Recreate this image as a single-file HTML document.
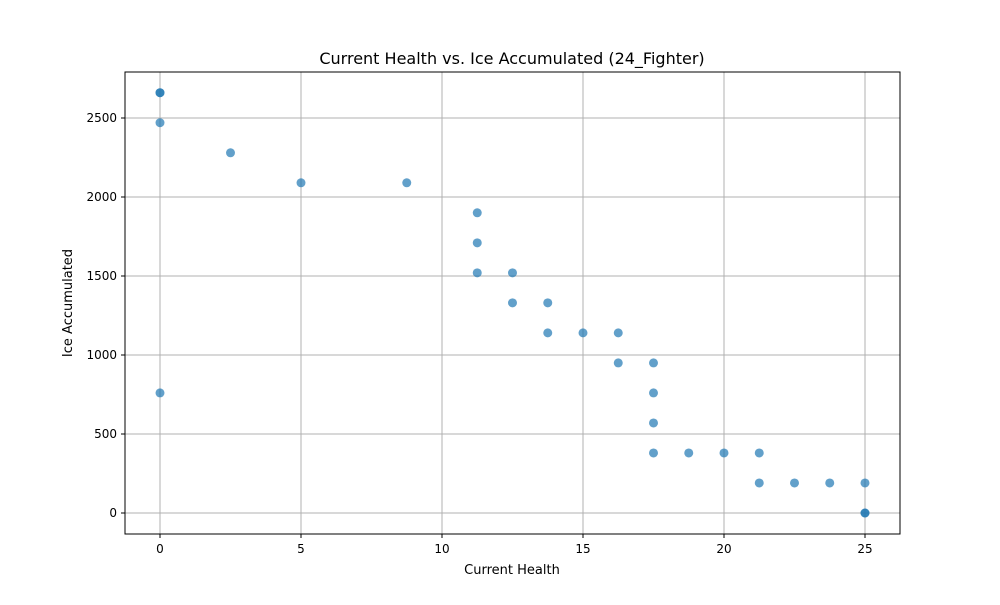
<!DOCTYPE html>
<html><head><meta charset="utf-8"><style>
body{margin:0;background:#fff;font-family:"Liberation Sans","DejaVu Sans",sans-serif;}
svg text{font-family:"DejaVu Sans","Liberation Sans",sans-serif;}
</style></head><body>
<svg id="chart" width="1000" height="600">
<rect width="1000" height="600" fill="#fff"/>
<g id="grid"></g>
<g id="pts"></g>
<rect x="125" y="72" width="775" height="462" fill="none" stroke="#000" stroke-width="1"/>
<g id="axes"></g>
<text x="512" y="64" font-size="16" text-anchor="middle">Current Health vs. Ice Accumulated (24_Fighter)</text>
<text x="512" y="574" font-size="13" text-anchor="middle">Current Health</text>
<text x="72" y="303" font-size="13" text-anchor="middle" transform="rotate(-90 72 303)">Ice Accumulated</text>
</svg>
<script>
const xVals=[0,0,0,0,2.5,5,8.75,11.25,11.25,11.25,12.5,12.5,13.75,13.75,15,16.25,16.25,17.5,17.5,17.5,17.5,18.75,20,21.25,21.25,22.5,23.75,25,25,25];
const yVals=[2660,2660,2470,760,2280,2090,2090,1900,1710,1520,1520,1330,1330,1140,1140,1140,950,950,760,570,380,380,380,380,190,190,190,190,0,0];
const xTicks=[0,5,10,15,20,25];
const yTicks=[0,500,1000,1500,2000,2500];
const sx=v=>160+v*28.2;
const sy=v=>513-v*0.158;
const NS="http://www.w3.org/2000/svg";
const grid=document.getElementById('grid'),axes=document.getElementById('axes'),pts=document.getElementById('pts');
function mk(tag,attrs,parent){const e=document.createElementNS(NS,tag);for(const k in attrs)e.setAttribute(k,attrs[k]);parent.appendChild(e);return e;}
xTicks.forEach(t=>{const x=sx(t);
const g=mk('line',{x1:x,x2:x,y1:72,y2:534,stroke:'#b0b0b0','stroke-width':1},grid);


mk('line',{x1:x,x2:x,y1:534,y2:538,stroke:'#000'},axes);
const tx=mk('text',{x:x,y:553,'font-size':12,'text-anchor':'middle'},axes);tx.textContent=t;

});
yTicks.forEach(t=>{const y=sy(t);
const g=mk('line',{x1:125,x2:900,y1:y,y2:y,stroke:'#b0b0b0','stroke-width':1},grid);


mk('line',{x1:121,x2:125,y1:y,y2:y,stroke:'#000'},axes);
const tx=mk('text',{x:117,y:y+4,'font-size':12,'text-anchor':'end'},axes);tx.textContent=t;

});
xVals.forEach((v,i)=>{const c=mk('circle',{cx:sx(v),cy:sy(yVals[i]),r:4.5,fill:'#1f77b4','fill-opacity':0.7},pts);

});
</script>
</body></html>
